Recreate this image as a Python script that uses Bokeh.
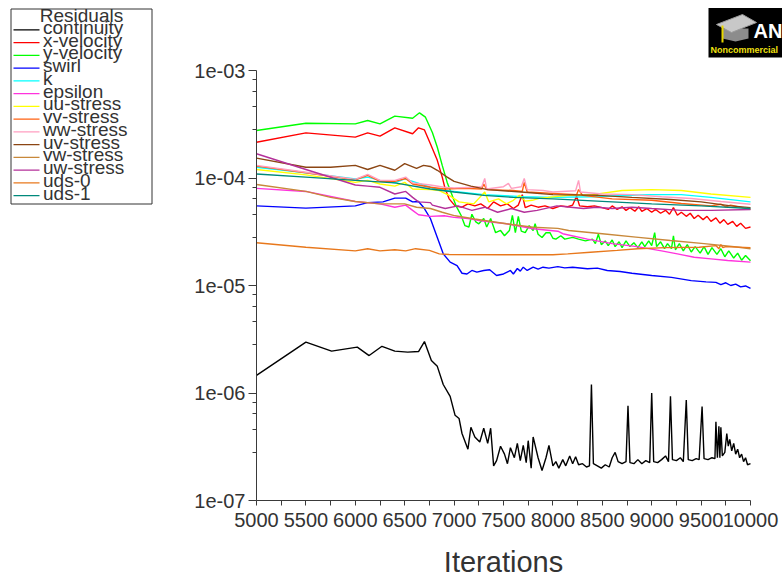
from bokeh.plotting import figure
from bokeh.models import Range1d, FixedTicker, LinearScale
from bokeh.core.properties import value
from bokeh.embed import file_html
from bokeh.resources import INLINE

FONT = "Liberation Sans"

# ---------------- data ----------------
series_names = ["continuity", "x-velocity", "y-velocity", "swirl", "k", "epsilon",
                "uu-stress", "vv-stress", "ww-stress", "uv-stress", "vw-stress",
                "uw-stress", "uds-0", "uds-1"]
series_colors = ["#000000", "#ff0000", "#00ff00", "#0000ff", "#00ffff", "#ff33dd",
                 "#ffff00", "#ff6010", "#ff9ec0", "#8b4513", "#c8883a",
                 "#b4309a", "#e8781c", "#00897b"]

x_tick_values = [5000, 5500, 6000, 6500, 7000, 7500, 8000, 8500, 9000, 9500, 10000]
x_minor_values = [5250, 5750, 6250, 6750, 7250, 7750, 8250, 8750, 9250, 9750]
y_tick_values = [1e-7, 1e-6, 1e-5, 1e-4, 1e-3]
y_tick_labels = ["1e-07", "1e-06", "1e-05", "1e-04", "1e-03"]
y_minor_mult = [2.8, 4.6, 6.4, 8.2]

cont_it = [5000, 5500, 5760, 6020, 6140, 6270, 6400, 6530, 6640, 6700,
           6770, 6830, 6890, 6960, 7010, 7050, 7080, 7140, 7170, 7210,
           7260, 7300, 7340, 7370, 7400, 7430, 7470, 7510, 7540, 7570,
           7610, 7640, 7670, 7700, 7730, 7750, 7780, 7800, 7850, 7890,
           7930, 7960, 8000, 8030, 8060, 8100, 8130, 8170, 8200, 8230,
           8260, 8300, 8340, 8370, 8390, 8410, 8450, 8490, 8530, 8570,
           8600, 8630, 8660, 8700, 8740, 8760, 8780, 8820, 8860, 8900,
           8940, 8980, 9000, 9020, 9060, 9100, 9140, 9170, 9190, 9210,
           9250, 9290, 9320, 9350, 9370, 9410, 9450, 9480, 9510, 9530,
           9570, 9610, 9640, 9650, 9665, 9680, 9690, 9700, 9715, 9740,
           9760, 9775, 9790, 9810, 9830, 9850, 9870, 9890, 9910, 9930,
           9950, 9970, 10000]
cont_res = [1.46e-6, 2.97e-6, 2.45e-6, 2.67e-6, 2.23e-6, 2.72e-6, 2.45e-6, 2.40e-6, 2.43e-6, 3.01e-6,
            2.01e-6, 1.77e-6, 1.20e-6, 9.3e-7, 6.2e-7, 5.8e-7, 4.2e-7, 3.0e-7, 4.8e-7, 3.9e-7,
            3.5e-7, 4.7e-7, 3.4e-7, 4.7e-7, 2.1e-7, 2.35e-7, 3.2e-7, 2.7e-7, 2.2e-7, 3.1e-7,
            2.5e-7, 3.4e-7, 2.35e-7, 3.25e-7, 2.25e-7, 3.6e-7, 2.0e-7, 3.9e-7, 2.5e-7, 1.9e-7,
            2.5e-7, 3.25e-7, 2.1e-7, 2.3e-7, 2.0e-7, 2.4e-7, 2.1e-7, 2.6e-7, 2.2e-7, 2.55e-7,
            2.15e-7, 2.2e-7, 2.05e-7, 2.1e-7, 1.2e-6, 2.2e-7, 2.1e-7, 2.0e-7, 2.15e-7, 2.05e-7,
            2.5e-7, 2.8e-7, 2.3e-7, 2.2e-7, 2.3e-7, 7.6e-7, 2.25e-7, 2.2e-7, 2.4e-7, 2.2e-7,
            2.35e-7, 2.25e-7, 1.0e-6, 2.3e-7, 2.25e-7, 2.4e-7, 2.6e-7, 2.3e-7, 9.3e-7, 2.4e-7,
            2.35e-7, 2.5e-7, 2.3e-7, 8.6e-7, 2.4e-7, 2.35e-7, 2.45e-7, 2.4e-7, 7.5e-7, 2.45e-7,
            2.4e-7, 2.5e-7, 2.45e-7, 5.4e-7, 2.5e-7, 4.9e-7, 2.5e-7, 4.8e-7, 2.6e-7, 2.8e-7,
            4.2e-7, 3.2e-7, 3.7e-7, 2.9e-7, 3.4e-7, 2.7e-7, 3.0e-7, 2.5e-7, 2.7e-7, 2.3e-7,
            2.5e-7, 2.15e-7, 2.2e-7]

xvel_it = [5000, 5500, 6000, 6125, 6250, 6400, 6580, 6640, 6700, 6760,
           6830, 6880, 6910, 6950, 7010, 7080, 7140, 7210, 7270, 7340,
           7400, 7470, 7540, 7600, 7650, 7690, 7720, 7780, 7850, 7920,
           8000, 8080, 8150, 8200, 8240, 8270, 8350, 8420, 8500, 8560,
           8600, 8650, 8700, 8740, 8780, 8830, 8870, 8900, 8950, 9000,
           9040, 9090, 9140, 9180, 9220, 9260, 9300, 9350, 9390, 9430,
           9470, 9520, 9560, 9600, 9650, 9690, 9730, 9770, 9820, 9860,
           9900, 9950, 10000]
xvel_res = [2.15e-4, 2.63e-4, 2.4e-4, 2.63e-4, 2.45e-4, 2.93e-4, 2.58e-4, 2.93e-4, 2.8e-4, 2.08e-4,
            1.46e-4, 1.02e-4, 7.9e-5, 6.4e-5, 5.5e-5, 5.35e-5, 5.75e-5, 5.5e-5, 5.75e-5, 5.2e-5,
            6.0e-5, 5.5e-5, 5.75e-5, 5.2e-5, 5.6e-5, 7.0e-5, 5.3e-5, 5.6e-5, 5.35e-5, 5.5e-5,
            5.2e-5, 5.5e-5, 5.4e-5, 5.6e-5, 6.8e-5, 5.5e-5, 5.4e-5, 5.5e-5, 5.3e-5, 5.1e-5,
            5.5e-5, 5.1e-5, 5.4e-5, 5.0e-5, 5.3e-5, 4.9e-5, 5.4e-5, 4.9e-5, 5.2e-5, 4.8e-5,
            5.1e-5, 4.7e-5, 5.0e-5, 4.6e-5, 5.3e-5, 4.5e-5, 4.8e-5, 4.4e-5, 4.7e-5, 4.2e-5,
            4.5e-5, 4.1e-5, 4.4e-5, 3.95e-5, 4.25e-5, 3.8e-5, 4.1e-5, 3.7e-5, 3.95e-5, 3.55e-5,
            3.8e-5, 3.4e-5, 3.5e-5]

yvel_it = [5000, 5500, 6000, 6125, 6250, 6400, 6580, 6650, 6710, 6780,
           6830, 6880, 6930, 6980, 7020, 7070, 7110, 7150, 7180, 7220,
           7250, 7300, 7330, 7370, 7420, 7470, 7510, 7560, 7590, 7620,
           7650, 7680, 7720, 7760, 7800, 7820, 7850, 7890, 7930, 7970,
           8000, 8030, 8080, 8120, 8200, 8260, 8330, 8400, 8430, 8460,
           8490, 8530, 8560, 8600, 8630, 8670, 8700, 8740, 8780, 8820,
           8860, 8900, 8930, 8970, 9000, 9030, 9050, 9090, 9130, 9160,
           9200, 9220, 9240, 9280, 9320, 9360, 9400, 9440, 9490, 9530,
           9570, 9610, 9660, 9700, 9740, 9780, 9830, 9870, 9910, 9950,
           10000]
yvel_res = [2.77e-4, 3.23e-4, 3.19e-4, 3.43e-4, 3.19e-4, 3.76e-4, 3.6e-4, 4.04e-4, 3.68e-4, 2.65e-4,
            1.93e-4, 1.31e-4, 9.1e-5, 6.9e-5, 5.5e-5, 4.5e-5, 3.6e-5, 3.5e-5, 4.6e-5, 3.9e-5,
            3.75e-5, 4.2e-5, 3.5e-5, 4.2e-5, 3.1e-5, 3.25e-5, 2.9e-5, 3.25e-5, 4.5e-5, 3.1e-5,
            4.4e-5, 3.2e-5, 3.1e-5, 3.6e-5, 3.25e-5, 3.75e-5, 3.0e-5, 2.8e-5, 3.1e-5, 3.1e-5,
            2.75e-5, 2.7e-5, 2.9e-5, 2.7e-5, 2.8e-5, 2.7e-5, 2.6e-5, 2.7e-5, 2.45e-5, 3.0e-5,
            2.4e-5, 2.6e-5, 2.35e-5, 2.65e-5, 2.3e-5, 2.55e-5, 2.25e-5, 2.6e-5, 2.3e-5, 2.5e-5,
            2.25e-5, 2.55e-5, 2.3e-5, 2.6e-5, 2.35e-5, 3.1e-5, 2.3e-5, 2.55e-5, 2.2e-5, 2.45e-5,
            2.2e-5, 2.9e-5, 2.15e-5, 2.45e-5, 2.1e-5, 2.4e-5, 2.05e-5, 2.3e-5, 2.0e-5, 2.3e-5,
            1.95e-5, 2.25e-5, 1.95e-5, 2.2e-5, 1.85e-5, 2.1e-5, 1.8e-5, 2.0e-5, 1.72e-5, 1.9e-5,
            1.7e-5]

swirl_it = [5000, 5500, 6000, 6125, 6280, 6400, 6510, 6580, 6640, 6690,
            6760, 6830, 6890, 6960, 7030, 7080, 7130, 7180, 7230, 7300,
            7360, 7430, 7500, 7570, 7600, 7640, 7670, 7700, 7740, 7800,
            7850, 7900, 7960, 8050, 8120, 8200, 8350, 8450, 8550, 8680,
            8800, 9000, 9200, 9400, 9550, 9650, 9700, 9750, 9800, 9850,
            9900, 9950, 10000]
swirl_res = [5.5e-5, 5.25e-5, 5.5e-5, 5.9e-5, 6.0e-5, 6.5e-5, 6.5e-5, 6.0e-5, 6.05e-5, 5.35e-5,
             4.2e-5, 2.8e-5, 1.97e-5, 1.65e-5, 1.53e-5, 1.3e-5, 1.28e-5, 1.38e-5, 1.33e-5, 1.38e-5,
             1.4e-5, 1.24e-5, 1.28e-5, 1.38e-5, 1.28e-5, 1.44e-5, 1.36e-5, 1.48e-5, 1.38e-5, 1.48e-5,
             1.42e-5, 1.48e-5, 1.45e-5, 1.5e-5, 1.46e-5, 1.48e-5, 1.43e-5, 1.45e-5, 1.38e-5, 1.35e-5,
             1.3e-5, 1.24e-5, 1.19e-5, 1.11e-5, 1.08e-5, 1.07e-5, 1.02e-5, 1.06e-5, 1.0e-5, 1.03e-5,
             9.7e-6, 9.9e-6, 9.4e-6]

k_it = [5000, 5500, 6000, 6125, 6250, 6400, 6500, 6580, 6760, 6900,
        7050, 7300, 7700, 8000, 8400, 8800, 9000, 9300, 9600, 9800, 10000]
k_res = [1.26e-4, 1.12e-4, 9.8e-5, 1.02e-4, 9.5e-5, 9.0e-5, 9.8e-5, 9.3e-5, 8.2e-5, 7.65e-5,
         7.4e-5, 7.0e-5, 6.7e-5, 6.6e-5, 6.7e-5, 6.9e-5, 7.0e-5, 7.0e-5, 6.6e-5, 6.3e-5, 6.0e-5]

eps_it = [5000, 5500, 6000, 6250, 6400, 6510, 6580, 6640, 6760, 6900,
          7000, 7140, 7270, 7530, 7800, 8050, 8100, 8350, 8600, 8850,
          9100, 9260, 9430, 9600, 9770, 10000]
eps_res = [8.0e-5, 7.5e-5, 6.05e-5, 5.75e-5, 5.35e-5, 5.6e-5, 5.0e-5, 4.55e-5, 4.4e-5, 4.45e-5,
           4.3e-5, 4.2e-5, 4.0e-5, 3.75e-5, 3.37e-5, 3.2e-5, 3.03e-5, 2.7e-5, 2.45e-5, 2.3e-5,
           2.1e-5, 1.97e-5, 1.83e-5, 1.77e-5, 1.71e-5, 1.65e-5]

uu_it = [5000, 5500, 6000, 6125, 6250, 6400, 6500, 6580, 6760, 6850,
         6950, 7050, 7200, 7260, 7310, 7350, 7450, 7530, 7600, 7660,
         7720, 7790, 7870, 7950, 8150, 8400, 8700, 9000, 9300, 9600, 10000]
uu_res = [1.2e-4, 1.07e-4, 9.1e-5, 9.5e-5, 8.8e-5, 8.4e-5, 9.1e-5, 7.9e-5, 7.8e-5, 7.65e-5,
          6.9e-5, 6.0e-5, 5.75e-5, 6.6e-5, 7.4e-5, 6.0e-5, 6.4e-5, 5.75e-5, 6.2e-5, 6.9e-5,
          6.1e-5, 6.2e-5, 6.5e-5, 6.6e-5, 6.9e-5, 7.0e-5, 7.65e-5, 7.8e-5, 7.65e-5, 7.1e-5, 6.6e-5]

vv_it = [5000, 5500, 6000, 6125, 6250, 6400, 6510, 6580, 6760, 6900,
         7100, 7280, 7300, 7330, 7600, 7690, 7710, 7740, 8000, 8240,
         8260, 8300, 8600, 9000, 9300, 9600, 9700, 9750, 9800, 10000]
vv_res = [1.29e-4, 1.12e-4, 9.6e-5, 1.06e-4, 9.3e-5, 9.3e-5, 9.9e-5, 8.8e-5, 8.2e-5, 7.9e-5,
          8.0e-5, 7.9e-5, 8.8e-5, 7.8e-5, 7.65e-5, 7.5e-5, 9.1e-5, 7.4e-5, 7.2e-5, 7.0e-5,
          7.8e-5, 6.9e-5, 6.4e-5, 6.2e-5, 5.8e-5, 5.5e-5, 5.7e-5, 5.4e-5, 5.6e-5, 5.1e-5]

ww_it = [5000, 5500, 6000, 6125, 6250, 6400, 6510, 6580, 6760, 6900,
         7000, 7200, 7280, 7310, 7330, 7500, 7550, 7580, 7680, 7710,
         7740, 7900, 8000, 8230, 8260, 8280, 8500, 8800, 9100, 9400,
         9700, 10000]
ww_res = [1.31e-4, 1.13e-4, 9.7e-5, 1.08e-4, 9.5e-5, 9.5e-5, 1.02e-4, 9.0e-5, 8.6e-5, 8.2e-5,
          8.1e-5, 8.2e-5, 8.3e-5, 9.9e-5, 7.9e-5, 8.3e-5, 8.9e-5, 8.0e-5, 8.3e-5, 9.9e-5,
          7.8e-5, 7.65e-5, 7.4e-5, 7.6e-5, 9.5e-5, 7.4e-5, 7.1e-5, 7.0e-5, 6.7e-5, 6.45e-5,
          6.05e-5, 5.7e-5]

uv_it = [5000, 5500, 5750, 6000, 6125, 6250, 6400, 6500, 6620, 6690,
         6760, 6830, 6930, 7000, 7170, 7340, 7680, 8000, 8460, 8800,
         9190, 9500, 9800, 10000]
uv_res = [1.53e-4, 1.26e-4, 1.26e-4, 1.31e-4, 1.2e-4, 1.31e-4, 1.18e-4, 1.36e-4, 1.23e-4, 1.31e-4,
          1.28e-4, 1.18e-4, 1.02e-4, 9.3e-5, 8.4e-5, 7.8e-5, 7.4e-5, 7.0e-5, 6.9e-5, 6.6e-5,
          6.3e-5, 6.0e-5, 5.5e-5, 5.3e-5]

vw_it = [5000, 5500, 5750, 6000, 6250, 6400, 6500, 6620, 6760, 6880,
         7010, 7210, 7410, 7530, 7800, 8050, 8160, 8500, 8840, 9190,
         9530, 9860, 10000]
vw_res = [8.7e-5, 7.5e-5, 6.6e-5, 6.05e-5, 5.75e-5, 5.75e-5, 5.75e-5, 5.35e-5, 5.2e-5, 4.8e-5,
          4.45e-5, 4.15e-5, 3.9e-5, 3.75e-5, 3.48e-5, 3.4e-5, 3.25e-5, 3.03e-5, 2.82e-5, 2.62e-5,
          2.45e-5, 2.28e-5, 2.2e-5]

uw_it = [5000, 5500, 6000, 6125, 6250, 6400, 6510, 6580, 6640, 6760,
         6780, 6910, 7040, 7180, 7310, 7440, 7580, 7710, 7840, 8040,
         8180, 8310, 8440, 8600, 8800, 9000, 9300, 9600, 10000]
uw_res = [1.68e-4, 1.2e-4, 8.6e-5, 8.4e-5, 8.2e-5, 7.1e-5, 7.5e-5, 6.6e-5, 6.0e-5, 5.9e-5,
          5.6e-5, 5.2e-5, 5.5e-5, 5.0e-5, 5.35e-5, 4.8e-5, 5.2e-5, 4.8e-5, 5.0e-5, 5.5e-5,
          5.35e-5, 5.2e-5, 5.35e-5, 5.2e-5, 5.35e-5, 5.2e-5, 5.0e-5, 5.0e-5, 5.1e-5]

uds0_it = [5000, 5500, 6000, 6125, 6250, 6400, 6510, 6610, 6750, 6850,
           6950, 7500, 8000, 8150, 8380, 8650, 8860, 9140, 9480, 9650,
           9680, 9700, 9720, 9750, 10000]
uds0_res = [2.5e-5, 2.27e-5, 2.1e-5, 2.2e-5, 2.1e-5, 2.15e-5, 2.1e-5, 2.2e-5, 2.12e-5, 1.97e-5,
            1.94e-5, 1.93e-5, 1.93e-5, 1.97e-5, 2.04e-5, 2.12e-5, 2.2e-5, 2.25e-5, 2.27e-5, 2.35e-5,
            2.2e-5, 2.4e-5, 2.25e-5, 2.3e-5, 2.25e-5]

uds1_it = [5000, 5500, 6000, 6400, 6760, 7000, 7300, 7600, 8000, 8600, 9000, 9500, 10000]
uds1_res = [1.09e-4, 1.02e-4, 9.5e-5, 9.0e-5, 7.9e-5, 7.4e-5, 6.9e-5, 6.6e-5, 6.4e-5, 6.0e-5,
            5.75e-5, 5.5e-5, 5.2e-5]

series_its = [cont_it, xvel_it, yvel_it, swirl_it, k_it, eps_it, uu_it, vv_it, ww_it,
              uv_it, vw_it, uw_it, uds0_it, uds1_it]
series_res = [cont_res, xvel_res, yvel_res, swirl_res, k_res, eps_res, uu_res, vv_res, ww_res,
              uv_res, vw_res, uw_res, uds0_res, uds1_res]

# ---------------- geometry (canvas pixels; the whole canvas is the frame) ----------------
FIG_W, FIG_H = 782, 580
AX_X0, AX_X1 = 256, 750        # pixel of 5000 and 10000
AX_Y0, AX_Y1 = 500, 70         # pixel of 1e-7 and 1e-3

xs_per_px = (10000 - 5000) / (AX_X1 - AX_X0)
x_start = 5000 - AX_X0 * xs_per_px
x_end = 10000 + (FIG_W - AX_X1) * xs_per_px
dec_per_px = 4.0 / (AX_Y0 - AX_Y1)
y_start = 10 ** (-7 - (FIG_H - AX_Y0) * dec_per_px)
y_end = 10 ** (-3 + AX_Y1 * dec_per_px)

TXT = "#333333"
AX = "#3a3a3a"

p = figure(width=FIG_W, height=FIG_H, x_range=Range1d(x_start, x_end),
           y_range=Range1d(y_start, y_end), y_axis_type="log",
           output_backend="svg", toolbar_location=None,
           min_border_left=0, min_border_right=0, min_border_top=0, min_border_bottom=0)
p.extra_x_ranges = {"px": Range1d(0, FIG_W)}
p.extra_y_ranges = {"py": Range1d(FIG_H, 0)}
p.extra_x_scales = {"px": LinearScale()}
p.extra_y_scales = {"py": LinearScale()}
p.outline_line_color = None
p.grid.visible = False
p.background_fill_color = "white"
p.border_fill_color = "white"

for its, res, col in zip(series_its, series_res, series_colors):
    p.line(its, res, line_color=col, line_width=1.4)

y_minor = [m * t for t in y_tick_values[:-1] for m in y_minor_mult]
p.yaxis.ticker = FixedTicker(ticks=y_tick_values, minor_ticks=y_minor)
p.yaxis.major_label_overrides = dict(zip(y_tick_values, y_tick_labels))
p.yaxis.bounds = (y_tick_values[0], y_tick_values[-1])
p.yaxis.fixed_location = x_tick_values[0]
p.xaxis.ticker = FixedTicker(ticks=x_tick_values, minor_ticks=x_minor_values)
p.xaxis.bounds = (x_tick_values[0], x_tick_values[-1])
p.xaxis.fixed_location = y_tick_values[0]

for ax in (p.xaxis[0], p.yaxis[0]):
    ax.axis_line_color = AX
    ax.major_tick_line_color = AX
    ax.minor_tick_line_color = AX
    ax.major_tick_in = 0
    ax.minor_tick_in = 0
    ax.major_label_text_font = FONT
    ax.major_label_text_font_size = "20px"
    ax.major_label_text_color = TXT

p.yaxis.major_tick_out = 8
p.yaxis.minor_tick_out = 4
p.yaxis.major_label_standoff = 3
p.xaxis.major_tick_out = 5
p.xaxis.minor_tick_out = 5
p.xaxis.major_label_standoff = 7

R = dict(x_range_name="px", y_range_name="py")
SHIFT = 0.37   # baseline correction, in em

def tpos(y, size):
    return y - SHIFT * size

p.text(x=[503], y=[tpos(572, 29)], text=["Iterations"], text_align="center",
       text_baseline="alphabetic", text_font=value(FONT), text_font_size="29px",
       text_color=TXT, **R)

# ---------------- legend (canvas-pixel coordinates) ----------------
p.quad(left=[10.5], right=[151.5], top=[8.5], bottom=[203.5],
       fill_color="white", line_color="#333333", line_width=1, **R)
p.text(x=[81], y=[tpos(21.7, 19)], text=["Residuals"], text_align="center",
       text_baseline="alphabetic", text_font=value(FONT), text_font_size="19px",
       text_color=TXT, **R)
n = len(series_names)
item_y = [29.3 + 12.75 * i for i in range(n)]
p.segment(x0=[13] * n, y0=item_y, x1=[39] * n, y1=item_y,
          line_color=series_colors, line_width=1.3, **R)
p.text(x=[42.5] * n, y=[tpos(y + 4.5, 19) for y in item_y], text=series_names,
       text_align="left", text_baseline="alphabetic", text_font=value(FONT),
       text_font_size="19px", text_color=TXT, **R)

# ---------------- logo (canvas-pixel coordinates) ----------------
p.quad(left=[708], right=[782], top=[7.5], bottom=[57], fill_color="black",
       line_color=None, **R)
p.patch([722, 748, 748, 735, 722], [28, 28, 38, 41, 38], fill_color="#8c8c8c",
        line_color=None, **R)
p.patch([716, 742, 756, 731], [24, 14, 22, 32], fill_color="#c8c8c8",
        line_color="#9a9a9a", line_width=1, **R)
p.segment(x0=[722], y0=[25], x1=[722], y1=[42], line_color="#e8d800", line_width=2, **R)
p.text(x=[753], y=[tpos(38, 20)], text=["AN"], text_color="white", text_font=value(FONT),
       text_font_size="20px", text_font_style="bold", text_baseline="alphabetic", **R)
p.text(x=[710], y=[tpos(53, 9)], text=["Noncommercial"], text_color="#f0e010",
       text_font=value(FONT), text_font_size="9px", text_font_style="bold",
       text_baseline="alphabetic", **R)

open("out.html", "w").write(file_html(p, INLINE))
